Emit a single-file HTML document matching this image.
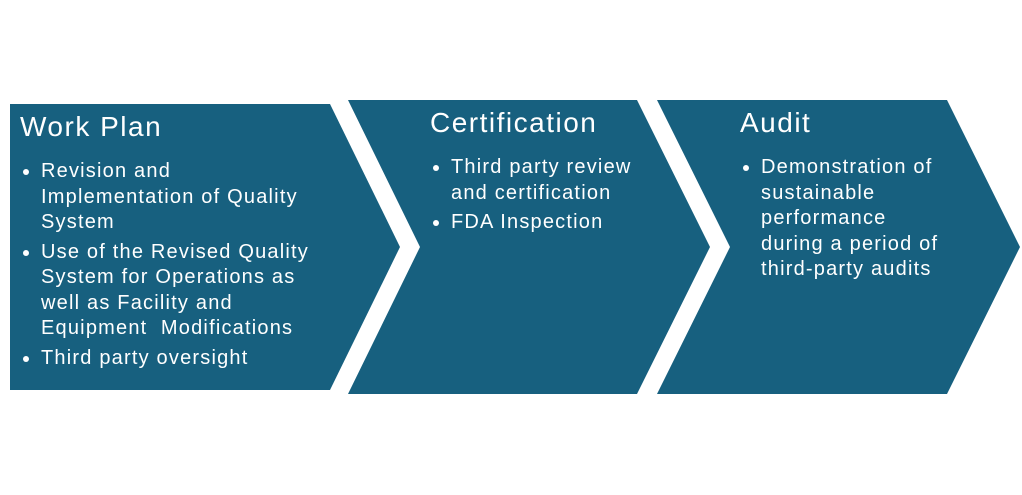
<!DOCTYPE html>
<html><head><style>
body{margin:0;width:1022px;height:495px;background:#fff;position:relative;overflow:hidden;font-family:"Liberation Sans",sans-serif;color:#fff}
svg{position:absolute;left:0;top:0}
.t{position:absolute;font-size:28px;line-height:30px;letter-spacing:1.5px}
ul{position:absolute;margin:0;padding:0 0 0 20px;font-size:20px;line-height:25.5px;list-style:none;white-space:nowrap;letter-spacing:1.2px}
li{position:relative;margin-bottom:4px}
li:before{content:"";position:absolute;left:-18px;top:10px;width:6px;height:6px;border-radius:50%;background:#fff}
</style></head><body>
<svg width="1022" height="495">
<polygon points="10,104 330,104 400,247 330,390 10,390" fill="#17607f"/>
<polygon points="348,100 637,100 710,247 637,394 348,394 420,247" fill="#17607f"/>
<polygon points="657,100 947,100 1020,247 947,394 657,394 730,247" fill="#17607f"/>
</svg>
<div class="t" style="left:20px;top:112px">Work Plan</div>
<ul style="left:21px;top:159px">
<li>Revision and<br>Implementation of Quality<br>System</li>
<li>Use of the Revised Quality<br>System for Operations as<br>well as Facility and<br>Equipment&nbsp; Modifications</li>
<li>Third party oversight</li>
</ul>
<div class="t" style="left:430px;top:108px">Certification</div>
<ul style="left:431px;top:155px">
<li>Third party review<br>and certification</li>
<li>FDA Inspection</li>
</ul>
<div class="t" style="left:740px;top:108px">Audit</div>
<ul style="left:741px;top:155px">
<li>Demonstration of<br>sustainable<br>performance<br>during a period of<br>third-party audits</li>
</ul>
</body></html>
